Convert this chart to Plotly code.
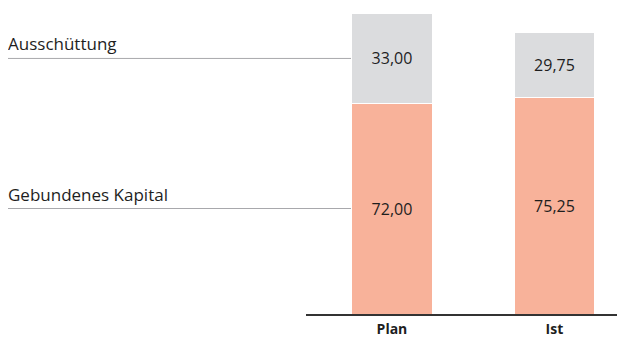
import plotly.graph_objects as go

categories = ["Plan", "Ist"]
# drawn heights of the stacked segments
kapital_height = [72.0, 73.8]
ausschuettung_height = [30.4, 22.1]
# printed value labels
kapital_labels = ["72,00", "75,25"]
ausschuettung_labels = ["33,00", "29,75"]
series_names = ["Gebundenes Kapital", "Ausschüttung"]

# the page body adds an 8px offset, so the figure is 8px smaller
W, H = 617, 330
ORANGE = "#F8B29A"
GRAY = "#DBDCDE"
TXT = "#1E1E1E"
FONT = "Open Sans"

fig = go.Figure()
fig.add_trace(go.Bar(
    x=categories, y=kapital_height, name=series_names[0],
    marker=dict(color=ORANGE, line=dict(color="white", width=1)),
    text=kapital_labels, textposition="inside", insidetextanchor="middle",
    textangle=0, textfont=dict(family=FONT, size=16, color=TXT),
    width=0.494, hoverinfo="skip",
))
fig.add_trace(go.Bar(
    x=categories, y=ausschuettung_height, name=series_names[1],
    marker=dict(color=GRAY, line=dict(color="white", width=1)),
    text=ausschuettung_labels, textposition="inside", insidetextanchor="middle",
    textangle=0, textfont=dict(family=FONT, size=16, color=TXT),
    width=0.494, hoverinfo="skip",
))

# callout lines and labels at the centres of the Plan segments
centers = [kapital_height[0] / 2, kapital_height[0] + ausschuettung_height[0] / 2]
for name, yc in zip(series_names, centers):
    fig.add_shape(type="line", xref="paper", yref="y",
                  x0=0, x1=343 / W, y0=yc, y1=yc,
                  line=dict(color="#A8A8AC", width=1))
    fig.add_annotation(text=name, xref="paper", yref="y", x=0, y=yc,
                       xanchor="left", yanchor="bottom", yshift=1, xshift=-2,
                       showarrow=False,
                       font=dict(family=FONT, size=17, color=TXT))

fig.update_layout(
    barmode="stack", width=W, height=H,
    margin=dict(l=0, r=0, t=0, b=24, autoexpand=False),
    paper_bgcolor="white", plot_bgcolor="white",
    showlegend=False, font=dict(family=FONT, color=TXT),
    xaxis=dict(domain=[298 / W, 616 / W], range=[-0.529, 1.428],
               showline=True, linecolor="#333333", linewidth=1.5,
               showgrid=False, zeroline=False, ticks="",
               tickfont=dict(family=FONT, size=14, color=TXT, weight="bold"),
               ticklabelstandoff=1, automargin=False),
    yaxis=dict(range=[0, 306 / 2.9306], visible=False, showgrid=False,
               zeroline=False, automargin=False),
)

fig.write_html("out.html")
